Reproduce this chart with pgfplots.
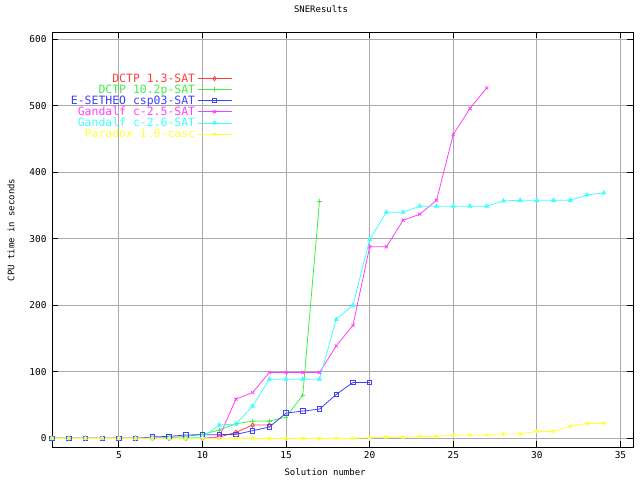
\documentclass[border=0pt]{standalone}
\usepackage{fontspec}
\setmainfont{DejaVu Sans Mono}
\usepackage{pgfplots}
\pgfplotsset{compat=1.18}
\usetikzlibrary{plotmarks}

\definecolor{cR}{RGB}{255,64,64}
\definecolor{cG}{RGB}{64,240,64}
\definecolor{cB}{RGB}{64,64,255}
\definecolor{cM}{RGB}{255,64,255}
\definecolor{cC}{RGB}{64,255,255}
\definecolor{cY}{RGB}{255,255,64}
\definecolor{gridgray}{RGB}{170,170,170}

\begin{document}
\begin{tikzpicture}
\path[use as bounding box] (-52bp,-33bp) rectangle (588bp,447bp);
\begin{axis}[
    scale only axis,
    width=581bp, height=415bp,
    xmin=1, xmax=35.75,
    ymin=-13, ymax=611,
    xtick={5,10,...,35},
    ytick={0,100,...,600},
    grid=major,
    major grid style={gridgray, line width=0.8bp},
    tick align=inside,
    major tick length=6bp,
    tick style={black, line width=0.8bp},
    axis line style={line width=0.8bp},
    font=\fontsize{9}{10}\selectfont,
    /pgf/number format/assume math mode=true,
    yticklabel style={xshift=-2bp, font=\fontsize{9.5}{10}\selectfont},
    xticklabel style={yshift=-1bp, font=\fontsize{9.5}{10}\selectfont},
    title={SNEResults},
    title style={at={(rel axis cs:0.463,1)}, anchor=center, yshift=17bp},
    xlabel={Solution number},
    xlabel style={at={(rel axis cs:0.47,0)}, anchor=center, yshift=-25bp},
    ylabel={CPU time in seconds},
    ylabel style={at={(rel axis cs:0,0.523)}, anchor=center, yshift=41bp},
    legend style={at={(rel axis cs:0.31,0.905)}, anchor=north east,
        draw=none, fill=none, font=\fontsize{11.5}{12}\selectfont,
        row sep=-3bp, inner sep=0pt},
    legend cell align=right,
    legend plot pos=right,
    legend image code/.code={%
        \draw[mark repeat=2,mark phase=2,#1] plot coordinates {(0bp,0bp) (17bp,0bp) (34bp,0bp)};},
    every axis plot/.append style={line width=0.8bp, mark size=2.2bp, mark options={solid, line width=0.8bp}},
]

\addplot[color=cR, mark=diamond] coordinates {
    (1,0)(2,0)(3,0)(4,0)(5,0)(6,0)(7,0)(8,0)(9,0)(10,0)
    (11,2)(12,9)(13,20)(14,20)
};
\addlegendentry{\textcolor{cR}{DCTP 1.3-SAT}}

\addplot[color=cG, mark=+] coordinates {
    (1,0)(2,0)(3,0)(4,0)(5,0)(6,0)(7,0)(8,1)(9,3)(10,6)
    (11,12.5)(12,22)(13,26)(14,26)(15,32)(16,65)(17,357)
};
\addlegendentry{\textcolor{cG}{DCTP 10.2p-SAT}}

\addplot[color=cB, mark=square] coordinates {
    (1,0)(2,0)(3,0)(4,0)(5,0)(6,0)(7,2)(8,3)(9,5)(10,5.5)
    (11,5.5)(12,6)(13,11.5)(14,17)(15,38)(16,41)(17,44)(18,66)(19,84)(20,84)
};
\addlegendentry{\textcolor{cB}{E-SETHEO csp03-SAT}}

\addplot[color=cM, mark=x] coordinates {
    (1,0)(2,0)(3,0)(4,0)(5,0)(6,0)(7,0)(8,0)(9,0)(10,0)
    (11,2)(12,59)(13,69)(14,99)(15,99)(16,99)(17,99)(18,139)(19,170)(20,288)
    (21,288)(22,328)(23,337)(24,358)(25,457)(26,496)(27,527)
};
\addlegendentry{\textcolor{cM}{Gandalf c-2.5-SAT}}

\addplot[color=cC, mark=triangle*] coordinates {
    (1,0)(2,0)(3,0)(4,0)(5,0)(6,0)(7,0)(8,0)(9,0)(10,2)
    (11,20)(12,21.5)(13,48.5)(14,89)(15,89)(16,89)(17,89)(18,179)(19,200)(20,299)
    (21,340)(22,340)(23,349)(24,349)(25,349)(26,349)(27,349)(28,357)(29,358)(30,358)
    (31,358)(32,358)(33,366)(34,369)
};
\addlegendentry{\textcolor{cC}{Gandalf c-2.6-SAT}}

\addplot[color=cY, mark=asterisk] coordinates {
    (1,0)(2,0)(3,0)(4,0)(5,0)(6,0)(7,0)(8,0)(9,0)(10,0)
    (11,0)(12,0)(13,0)(14,0)(15,0)(16,0)(17,0)(18,0)(19,0)(20,1)
    (21,1.5)(22,1.5)(23,3)(24,3)(25,5)(26,5)(27,5)(28,6.5)(29,6.5)(30,10.5)
    (31,10.5)(32,18)(33,22.5)(34,22.5)
};
\addlegendentry{\textcolor{cY}{Paradox 1.0-casc}}

\end{axis}
\end{tikzpicture}
\end{document}
